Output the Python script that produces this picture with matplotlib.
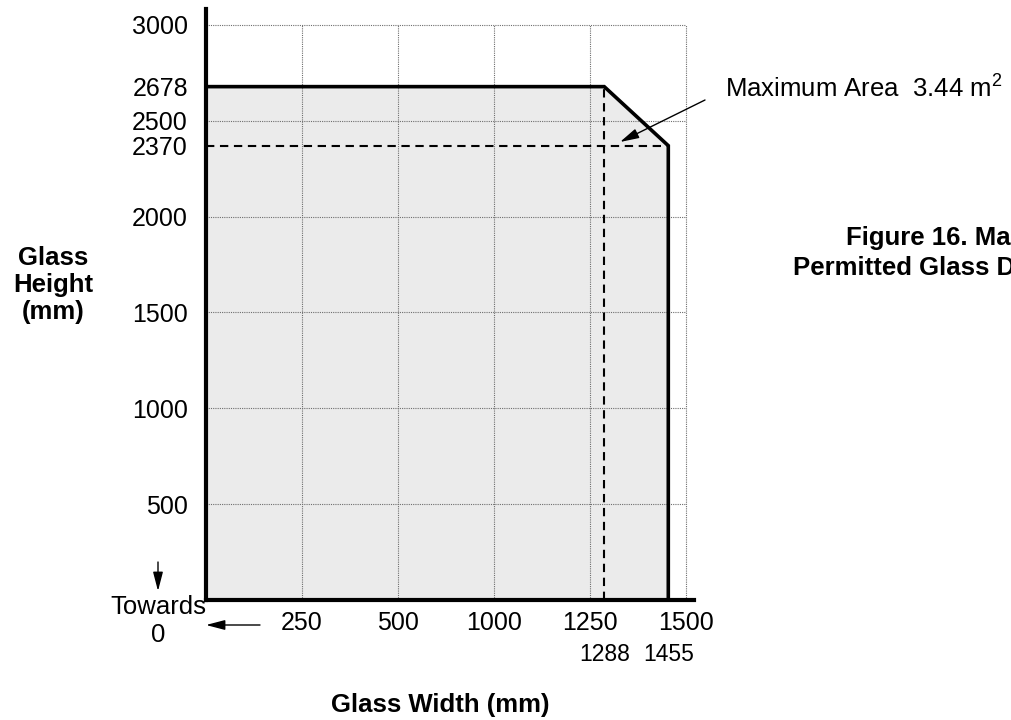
import numpy as np
import matplotlib
matplotlib.use('Agg')
import matplotlib.pyplot as plt
from matplotlib.ticker import FixedLocator, FixedFormatter

plt.rcParams['font.family'] = ['Liberation Sans', 'DejaVu Sans']
plt.rcParams['mathtext.fontset'] = 'custom'
plt.rcParams['mathtext.rm'] = 'Liberation Sans'
plt.rcParams['hatch.linewidth'] = 0.5
plt.rcParams['hatch.color'] = '#cfcfcf'

# ---- data ----
x_ticks = [250, 500, 1000, 1250, 1500]
x_tick_labels = ['250', '500', '1000', '1250', '1500']
y_ticks = [500, 1000, 1500, 2000, 2370, 2500, 2678, 3000]
y_tick_labels = ['500', '1000', '1500', '2000', '2370', '2500', '2678', '3000']
grid_x = [250, 500, 1000, 1250, 1500]
grid_y = [500, 1000, 1500, 2000, 2500, 3000]
max_height = 2678
corner_width = 1288
max_width = 1455
side_height = 2370
dim_ticks = [1288, 1455]
dim_labels = ['1288', '1455']
annotation_text = 'Maximum Area  3.44 m$^{2}$'

# axis scale follows the evenly spaced tick labels of the drawing
scale_knots = [0, 250, 500, 1000, 1250, 1500, 1750]
scale_pos = [0, 1, 2, 3, 4, 5, 6]


def fwd(x):
    return np.interp(x, scale_knots, scale_pos)


def inv(p):
    return np.interp(p, scale_pos, scale_knots)


W, H = 1012, 720
fig = plt.figure(figsize=(W / 100, H / 100), dpi=100)
ax = fig.add_axes([206 / W, 120 / H, 488 / W, 591 / H])
ax.set_xscale('function', functions=(fwd, inv))
ax.set_xlim(0, 1522)
ax.set_ylim(0, 3083)

# shaded permitted region
ax.fill([0, 0, corner_width, max_width, max_width],
        [0, max_height, max_height, side_height, 0],
        facecolor='#ebebeb', edgecolor='none', hatch='+++++', zorder=1)

# grid
ax.hlines(grid_y, 0, 1500, colors='#6e6e6e', linewidth=0.8,
          linestyles=(0, (1, 1)), zorder=2)
ax.vlines(grid_x, 0, 3000, colors='#6e6e6e', linewidth=0.8,
          linestyles=(0, (1, 1)), zorder=2)

# dashed construction lines
ax.plot([0, max_width], [side_height, side_height], color='black',
        linewidth=1.5, linestyle=(0, (4, 2.7)), zorder=3)
ax.plot([corner_width, corner_width], [0, max_height], color='black',
        linewidth=1.5, linestyle=(0, (4, 2.7)), zorder=3)

# outline
ax.plot([0, corner_width, max_width, max_width],
        [max_height, max_height, side_height, 0],
        color='black', linewidth=2.6, solid_joinstyle='miter', zorder=4)

# spines
for s in ['top', 'right']:
    ax.spines[s].set_visible(False)
for s in ['left', 'bottom']:
    ax.spines[s].set_linewidth(3.0)
    ax.spines[s].set_zorder(5)

ax.xaxis.set_major_locator(FixedLocator(x_ticks))
ax.xaxis.set_major_formatter(FixedFormatter(x_tick_labels))
ax.xaxis.set_minor_locator(FixedLocator(dim_ticks))
ax.xaxis.set_minor_formatter(FixedFormatter(dim_labels))
ax.yaxis.set_major_locator(FixedLocator(y_ticks))
ax.yaxis.set_major_formatter(FixedFormatter(y_tick_labels))
ax.yaxis.set_minor_locator(FixedLocator([]))

ax.tick_params(axis='x', which='major', length=0, pad=8, labelsize=18)
ax.tick_params(axis='x', which='minor', length=0, pad=31, labelsize=16.5)
ax.tick_params(axis='y', which='major', length=0, pad=13, labelsize=18)


def fp(x, y):
    return (x, H - y)


arrow_style = '-|>,head_length=1.15,head_width=0.3'

# annotation arrow
ax.annotate('', xy=fp(620, 142), xycoords='figure pixels',
            xytext=fp(705, 100), textcoords='figure pixels',
            arrowprops=dict(arrowstyle=arrow_style, mutation_scale=10,
                            color='black', lw=1.0, shrinkA=0, shrinkB=0),
            zorder=6)
fig.text(725 / W, 1 - 88 / H, annotation_text, fontsize=18.5,
         ha='left', va='center')

# figure caption (runs off the right edge, as in the source page)
fig.text(846 / W, 1 - 238 / H, 'Figure 16. Maximum', fontsize=18.5,
         fontweight='bold', ha='left', va='center')
fig.text(793 / W, 1 - 268 / H, 'Permitted Glass Dimensions', fontsize=18.5,
         fontweight='bold', ha='left', va='center')

# axis titles
fig.text(53 / W, 1 - 285 / H, 'Glass\nHeight\n(mm)', fontsize=18.5,
         fontweight='bold', ha='center', va='center', linespacing=1.15)
fig.text(440 / W, 1 - 705 / H, 'Glass Width (mm)', fontsize=18.5,
         fontweight='bold', ha='center', va='center')

# "Towards 0" with arrows
fig.text(158 / W, 1 - 621 / H, 'Towards\n0', fontsize=18.5,
         ha='center', va='center', linespacing=1.2)
ax.annotate('', xy=fp(158, 591), xycoords='figure pixels',
            xytext=fp(158, 562), textcoords='figure pixels',
            arrowprops=dict(arrowstyle=arrow_style, mutation_scale=10,
                            color='black', lw=1.0, shrinkA=0, shrinkB=0))
ax.annotate('', xy=fp(206, 625), xycoords='figure pixels',
            xytext=fp(260, 625), textcoords='figure pixels',
            arrowprops=dict(arrowstyle=arrow_style, mutation_scale=10,
                            color='black', lw=1.0, shrinkA=0, shrinkB=0))

fig.savefig('out.png', dpi=100)
